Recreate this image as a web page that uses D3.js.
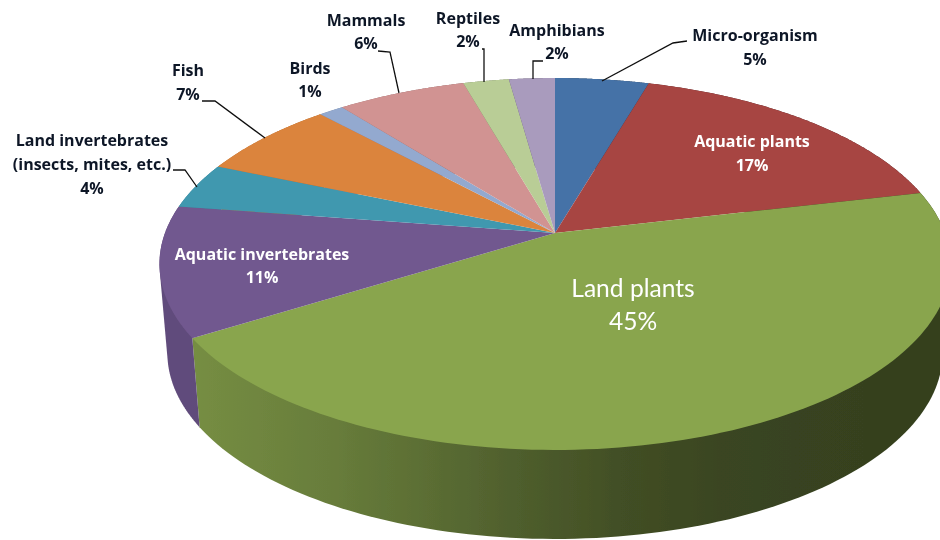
<!DOCTYPE html>
<html><head><meta charset="utf-8">
<script src="https://cdnjs.cloudflare.com/ajax/libs/d3/7.8.5/d3.min.js"></script>
<style>
html,body{margin:0;padding:0;background:#fff;overflow:hidden}
svg{display:block}
text{text-anchor:middle}
</style></head><body>
<svg id="c" width="940" height="540"></svg>
<script>
// ---- data ----
const categories = ["Micro-organism","Aquatic plants","Land plants","Aquatic invertebrates","Land invertebrates (insects, mites, etc.)","Fish","Birds","Mammals","Reptiles","Amphibians"];
const shares = [4.5,16.8,44.8,11.3,4.0,6.8,1.2,6.2,2.2,2.2];
// ---- style & layout ----
const colors = ["#4572a7","#a74543","#89a54e","#71588f","#4198af","#db843d","#93a9cf","#d19392","#b9cd96","#a99bbd"];
const labelLines = [["Micro-organism"],["Aquatic plants"],["Land plants"],["Aquatic invertebrates"],["Land invertebrates","(insects, mites, etc.)"],["Fish"],["Birds"],["Mammals"],["Reptiles"],["Amphibians"]];
const labelX = [755,752,633,262,92,188,310,366,468,557];
const labelY = [36,142,289,255,141,71,69,21,19,31];
const lineGap = [24,24,33,23,24,24,23,23,23,23];
const labelFill = ["#101828","#fff","#fff","#fff","#101828","#101828","#101828","#101828","#101828","#101828"];
const leaderStart = [[687,41],null,null,null,[173,170],[202,101],null,[378,51],[482,49],[543,61]];
const leaderElbow = [[673,43],null,null,null,[185,170],[215,101],null,[390,52],[484,49],[533,61]];
const leaderEnd = [[602,81],null,null,null,[197,187],[265,138],null,[399,93],[484,82],[533,79]];
const shadeX = [190,330,450,530,620,720,940];
const shadeK = [0.86,0.76,0.64,0.56,0.48,0.42,0.38];

const cx=555, cy=233, a=390, b=180.8, k=1/6, depth=89, bottomScale=0.98;
function rim(theta, lower){
  const u=Math.sin(theta), v=-Math.cos(theta), den=1-k*v;
  return [cx+(lower?a*bottomScale:a)*u/den, cy+(lower?depth:0)+b*v/den];
}
const svg=d3.select("#c");
const defs=svg.append("defs");
const pie=d3.pie().sort(null).value(d=>d)(shares);
const line=d3.line();
const samples=(s,e)=>d3.range(0,121).map(i=>s+(e-s)*i/120);

const x0=shadeX[0], x1=shadeX[shadeX.length-1];
colors.forEach((c,i)=>{
  const g=defs.append("linearGradient").attr("id","side"+i).attr("gradientUnits","userSpaceOnUse")
    .attr("x1",x0).attr("x2",x1).attr("y1",0).attr("y2",0);
  const base=d3.rgb(c);
  shadeX.forEach((x,j)=>{
    g.append("stop").attr("offset",(x-x0)/(x1-x0))
     .attr("stop-color",d3.rgb(base.r*shadeK[j],base.g*shadeK[j],base.b*shadeK[j]).formatHex());
  });
});
const sf=defs.append("filter").attr("id","soft").attr("x","-5%").attr("y","-5%").attr("width","110%").attr("height","110%");
sf.append("feGaussianBlur").attr("stdDeviation",0.45);

const root=svg.append("g").attr("filter","url(#soft)");
// side walls: hull of the slice's upper and lower rims gives the tangent silhouette
root.append("g").selectAll("path").data(pie).join("path")
  .attr("d",d=>{
    const t=samples(d.startAngle,d.endAngle);
    return line(d3.polygonHull([...t.map(x=>rim(x,false)),...t.map(x=>rim(x,true))]))+"Z";
  })
  .attr("fill",d=>`url(#side${d.index})`);
// top faces
root.append("g").selectAll("path").data(pie).join("path")
  .attr("d",d=>line([[cx,cy],...samples(d.startAngle,d.endAngle).map(x=>rim(x,false))])+"Z")
  .attr("fill",d=>colors[d.index]);
// leaders
root.append("g").selectAll("path").data(pie.filter(d=>leaderStart[d.index])).join("path")
  .attr("d",d=>line([leaderStart[d.index],leaderElbow[d.index],leaderEnd[d.index]]))
  .attr("fill","none").attr("stroke","#111").attr("stroke-width",1.3);
// labels
const lab=root.append("g").selectAll("g").data(pie).join("g");
lab.each(function(d){
  const i=d.index, big=i===2;
  const lines=[...labelLines[i],Math.round(shares[i])+"%"];
  d3.select(this).selectAll("text").data(lines).join("text")
    .attr("x",labelX[i])
    .attr("y",(t,j)=>labelY[i]+j*lineGap[i]+(big?8:5))
    .attr("fill",labelFill[i])
    .attr("font-family",big?"Lato":"'Open Sans'")
    .attr("font-size",big?24.6:16)
    .attr("font-weight",big?400:700)
    .text(t=>t);
});
</script>
</body></html>
